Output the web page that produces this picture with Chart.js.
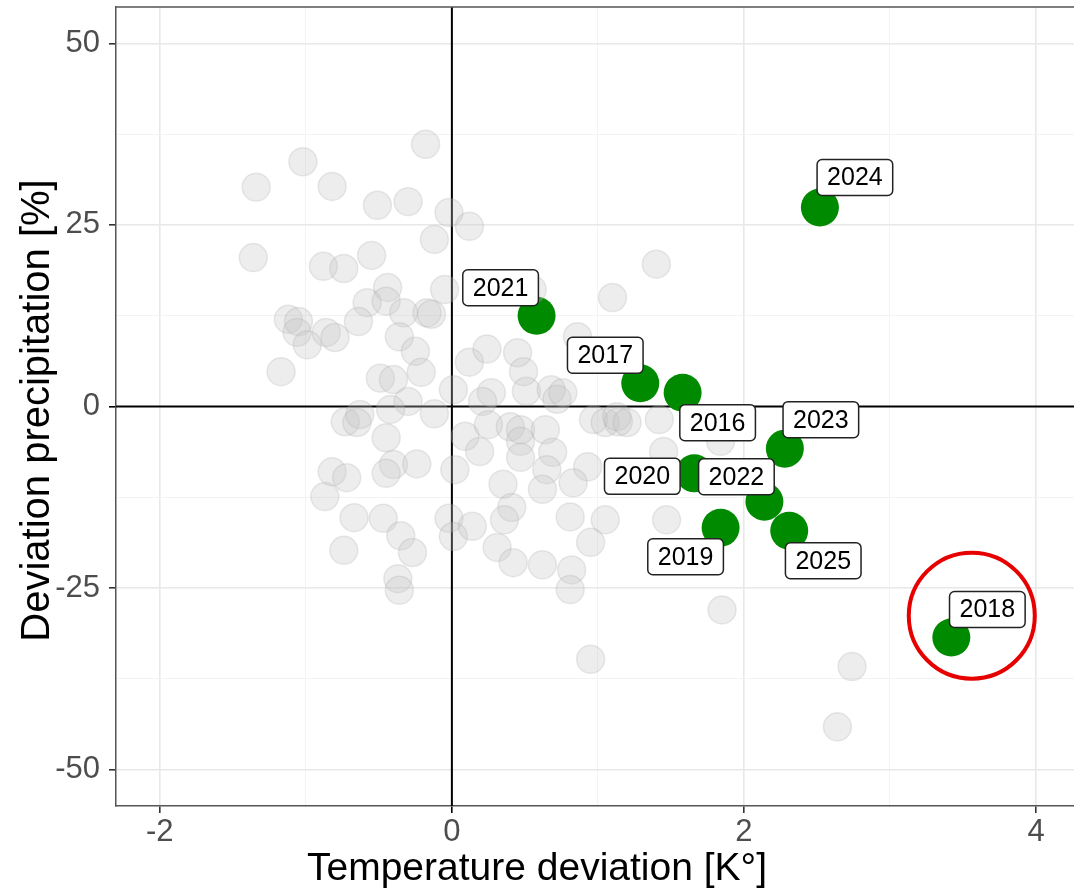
<!DOCTYPE html>
<html>
<head>
<meta charset="utf-8">
<script src="https://cdn.jsdelivr.net/npm/chart.js@4"></script>
<style>
  body { margin: 0; background: #fff; }
</style>
</head>
<body>
<canvas id="chart" width="1074" height="895"></canvas>
<script>
// earlier years, drawn as the grey cloud
const otherTemp = [
  -0.18, -1.02, -1.34, -0.82, -0.51, -0.30, -0.02, 0.12, -0.12, -1.36,
  -0.88, -0.74, -0.55, -0.44, -0.05, -0.58, -0.45, -0.33, -0.17, -1.12,
  -1.05, -1.06, -0.99, -0.86, -0.80, -0.64, -0.36, -0.25, -0.14, -1.17,
  -0.49, -0.40, -0.21, 0.01, -0.30, -0.42, -0.12, -0.73, -0.63, -0.65,
  -0.45, 0.09, -0.40, -0.24, -0.82, -0.72, -0.45, 0.02, -0.87, -0.67,
  -0.47, -0.35, -0.27, -0.74, -0.37, -0.36, -0.02, 0.01, 0.14, 0.12,
  1.40, 1.10, 0.55, 0.86, 0.24, 0.45, 0.49, 0.27, 0.21, 0.51,
  0.68, 0.72, 0.25, 0.40, 0.47, 0.64, 0.97, 1.05, 1.14, 0.19,
  0.47, 0.47, 0.69, 0.93, 0.35, 0.65, 0.62, 0.83, 0.41, 0.36,
  0.81, 1.05, 0.95, 0.31, 0.42, 0.62, 0.82, 0.81, 1.47, 1.45,
  0.76, 1.13, 1.20, 1.42, 1.84, 0.95, 1.85, 2.74, 2.64
];
const otherPrec = [
  36.1, 33.7, 30.2, 30.3, 27.7, 28.2, 26.7, 24.8, 23.0, 20.5,
  19.3, 19.0, 20.8, 16.4, 16.1, 14.3, 14.5, 12.9, 12.9, 12.0,
  11.7, 10.2, 8.5, 10.2, 9.5, 11.7, 9.6, 7.6, 12.7, 4.8,
  3.9, 3.7, 4.7, 2.3, 0.7, -0.4, -1.0, -2.1, -1.1, -2.2,
  -4.3, -4.1, -8.0, -7.9, -9.0, -9.8, -9.2, -8.7, -12.4, -15.3,
  -15.4, -17.8, -20.1, -19.8, -23.7, -25.3, -15.4, -17.9, -16.5, 6.1,
  19.6, 15.0, 16.1, 9.6, 7.9, 7.4, 4.8, 1.9, 0.7, 2.1,
  2.3, 1.0, -2.5, -2.8, -3.2, -3.2, -1.8, -2.2, -2.1, -6.2,
  -4.8, -7.0, -6.3, -8.3, -10.7, -8.7, -11.4, -10.5, -13.9, -15.6,
  -15.2, -15.6, -18.7, -19.4, -21.5, -21.8, -22.5, -25.2, -15.6, -6.2,
  1.9, -1.4, -2.2, -1.8, -4.8, -34.8, -28.0, -35.8, -44.1
];

// recent years, labelled
const years = [2016, 2017, 2018, 2019, 2020, 2021, 2022, 2023, 2024, 2025];
const yearTemp = [1.58, 1.29, 3.42, 1.84, 1.66, 0.58, 2.14, 2.28, 2.52, 2.31];
const yearPrec = [1.9, 3.2, -31.8, -16.7, -9.2, 12.5, -13.1, -5.8, 27.4, -17.1];

const xTicks = [-2, -1, 0, 1, 2, 3, 4];
const xTickLabels = ['-2', '', '0', '', '2', '', '4'];
const yTicks = [-50, -37.5, -25, -12.5, 0, 12.5, 25, 37.5, 50];
const yTickLabels = ['-50', '', '-25', '', '0', '', '25', '', '50'];

// label box offsets from their point, in px (repel-style placement)
const labelOffsets = {
  2016: [35, 30], 2017: [-35, -28], 2018: [36, -28], 2019: [-35, 29],
  2020: [-52, 3], 2021: [-36, -28], 2022: [-28, -25], 2023: [36, -29],
  2024: [35, -30], 2025: [34, 30]
};
const highlight = { x: 3.56, y: -28.8, r: 63 };

const FONT = '"Liberation Sans", Arial, sans-serif';

function isMajor(v) {
  return Math.abs(v) % 2 === 0 || Math.abs(v) % 25 === 0;
}
function gridColor(c) {
  const v = c.tick.value;
  if (v === 0) return 'rgba(0,0,0,0)';   // zero lines drawn by plugin
  return isMajor(v) ? '#e8e8e8' : '#f3f3f3';
}
function gridWidth(c) {
  return isMajor(c.tick.value) ? 1.6 : 1;
}
function tickColor(c) {
  const v = c.tick.value;
  if (v === 0) return '#000';
  return isMajor(v) ? '#333' : 'rgba(0,0,0,0)';
}
// the panel should fill the canvas, no room kept for edge labels
function noPad(s) {
  s.paddingTop = 0; s.paddingBottom = 0;
  s.paddingLeft = 0; s.paddingRight = 0;
}

const zeroLines = {
  id: 'zeroLines',
  beforeDatasetsDraw(chart) {
    const { ctx, chartArea: a, scales } = chart;
    const x0 = scales.x.getPixelForValue(0);
    const y0 = scales.y.getPixelForValue(0);
    ctx.save();
    ctx.strokeStyle = '#000';
    ctx.lineWidth = 2;
    ctx.beginPath();
    ctx.moveTo(x0, a.top); ctx.lineTo(x0, a.bottom);
    ctx.moveTo(a.left, y0); ctx.lineTo(a.right, y0);
    ctx.stroke();
    ctx.restore();
  }
};

const labelPlugin = {
  id: 'yearLabels',
  afterDatasetsDraw(chart) {
    const ctx = chart.ctx;
    const meta = chart.getDatasetMeta(1);
    ctx.save();
    ctx.font = '25px ' + FONT;
    ctx.textAlign = 'center';
    ctx.textBaseline = 'middle';
    meta.data.forEach((pt, i) => {
      const [dx, dy] = labelOffsets[years[i]];
      const cx = pt.x + dx, cy = pt.y + dy;
      const w = ctx.measureText(String(years[i])).width + 20, h = 36;
      ctx.beginPath();
      ctx.roundRect(cx - w / 2, cy - h / 2, w, h, 5);
      ctx.fillStyle = '#fff';
      ctx.fill();
      ctx.lineWidth = 1.5;
      ctx.strokeStyle = '#222';
      ctx.stroke();
      ctx.fillStyle = '#000';
      ctx.fillText(String(years[i]), cx, cy + 1);
    });

    // red highlight ring
    const hx = chart.scales.x.getPixelForValue(highlight.x);
    const hy = chart.scales.y.getPixelForValue(highlight.y);
    ctx.beginPath();
    ctx.arc(hx, hy, highlight.r, 0, Math.PI * 2);
    ctx.lineWidth = 4;
    ctx.strokeStyle = '#e60000';
    ctx.stroke();
    ctx.restore();
  }
};

const framePlugin = {
  id: 'frame',
  afterDraw(chart) {
    const { ctx, chartArea: a } = chart;
    ctx.save();
    ctx.strokeStyle = '#555';
    ctx.lineWidth = 1.5;
    ctx.beginPath();
    ctx.moveTo(a.left, a.top);
    ctx.lineTo(a.right, a.top);
    ctx.stroke();

    ctx.fillStyle = '#000';
    ctx.font = '39px ' + FONT;
    ctx.textAlign = 'center';
    ctx.textBaseline = 'middle';
    ctx.fillText('Temperature deviation [K°]', chart.width / 2, 869);
    ctx.font = '40px ' + FONT;
    ctx.translate(38, (a.top + a.bottom) / 2 + 4);
    ctx.rotate(-Math.PI / 2);
    ctx.fillText('Deviation precipitation [%]', 0, 0);
    ctx.restore();
  }
};

const scatter = new Chart(document.getElementById('chart'), {
  type: 'scatter',
  data: {
    datasets: [
      {
        label: 'other years',
        data: otherTemp.map((t, i) => ({ x: t, y: otherPrec[i] })),
        pointRadius: 14,
        backgroundColor: 'rgba(195,195,195,0.3)',
        borderColor: 'rgba(160,160,160,0.22)',
        borderWidth: 1.5
      },
      {
        label: 'recent years',
        data: yearTemp.map((t, i) => ({ x: t, y: yearPrec[i] })),
        pointRadius: 19,
        backgroundColor: '#008a00',
        borderWidth: 0
      }
    ]
  },
  options: {
    responsive: false,
    animation: false,
    events: [],
    layout: { autoPadding: false, padding: { top: 7, left: 0, right: 0, bottom: 0 } },
    plugins: {
      legend: { display: false },
      tooltip: { enabled: false }
    },
    scales: {
      x: {
        type: 'linear',
        min: -2.3,
        max: 4.26,
        afterBuildTicks: s => { s.ticks = xTicks.map(v => ({ value: v })); },
        afterFit: s => { s.height = 89; noPad(s); },
        ticks: {
          callback: (v, i) => xTickLabels[i],
          color: '#4d4d4d',
          font: { size: 31, family: FONT },
          padding: 1,
          autoSkip: false,
          maxRotation: 0
        },
        grid: { color: gridColor, lineWidth: gridWidth, tickColor: tickColor, tickLength: 7 },
        border: { color: '#555', width: 1.5 }
      },
      y: {
        type: 'linear',
        min: -55,
        max: 55,
        afterBuildTicks: s => { s.ticks = yTicks.map(v => ({ value: v })); },
        afterFit: s => { s.width = 116; noPad(s); },
        ticks: {
          callback: (v, i) => yTickLabels[i],
          color: '#4d4d4d',
          font: { size: 31, family: FONT },
          padding: 9,
          autoSkip: false
        },
        grid: { color: gridColor, lineWidth: gridWidth, tickColor: tickColor, tickLength: 7 },
        border: { color: '#555', width: 1.5 }
      }
    }
  },
  plugins: [zeroLines, labelPlugin, framePlugin]
});
</script>
</body>
</html>
